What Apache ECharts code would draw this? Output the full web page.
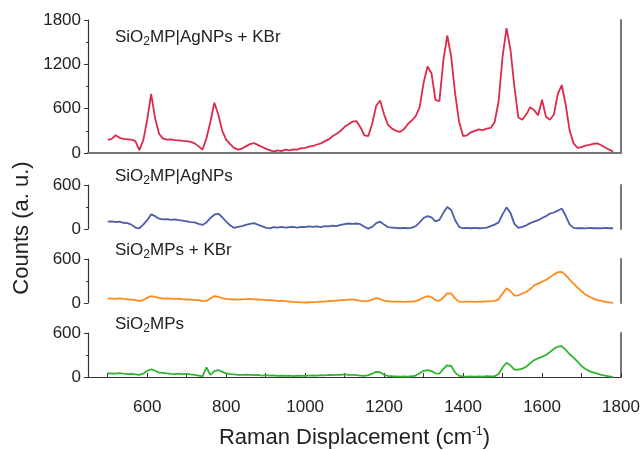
<!DOCTYPE html>
<html lang="en">
<head>
<meta charset="UTF-8">
<title>Raman spectra</title>
<style>
  html, body {margin:0; padding:0; background:#fff}
  #chart {width:643px; height:450px}
</style>
<script src="https://cdn.jsdelivr.net/npm/echarts@6/dist/echarts.min.js"></script>
</head>
<body>
<div id="chart"></div>
<script>
// Raman shift, cm-1
const ramanShift = [];
for (let x = 500; x <= 1780; x += 10) ramanShift.push(x);

const xTicks = [500, 600, 700, 800, 900, 1000, 1100, 1200, 1300, 1400, 1500, 1600, 1700, 1800];
const xLabels = [600, 800, 1000, 1200, 1400, 1600, 1800];

// SiO2MP|AgNPs + KBr
const agKbr = [
  176, 190, 240, 205, 190, 185, 180, 160, 40, 170,
  450, 800, 470, 260, 195, 180, 185, 175, 170, 165,
  162, 150, 130, 90, 45, 200, 420, 680, 520, 300,
  180, 120, 70, 45, 60, 90, 120, 135, 110, 85,
  60, 40, 20, 35, 25, 45, 35, 50, 45, 65,
  70, 85, 95, 115, 130, 160, 185, 230, 260, 300,
  355, 390, 425, 430, 350, 240, 230, 400, 640, 710,
  520, 380, 330, 300, 285, 320, 390, 440, 500, 620,
  950, 1170, 1080, 720, 700, 1250, 1590, 1300, 800, 420,
  230, 240, 280, 300, 320, 310, 330, 340, 420, 700,
  1300, 1690, 1400, 900, 480, 450, 520, 620, 580, 510,
  720, 490, 450, 520, 800, 920, 650, 300, 130, 70,
  80, 100, 110, 125, 130, 105, 75, 45, 20
];

// SiO2MP|AgNPs
const agOnly = [
  100, 105, 95, 100, 85, 80, 60, 20, 10, 60,
  120, 200, 175, 140, 130, 135, 125, 130, 120, 115,
  105, 95, 90, 70, 55, 90, 150, 195, 210, 160,
  100, 50, 15, 30, 40, 55, 70, 80, 60, 40,
  20, 10, 25, 20, 30, 20, 25, 30, 20, 30,
  25, 35, 30, 35, 25, 40, 35, 45, 40, 55,
  65, 75, 70, 75, 65, 30, 5, 30, 80, 100,
  60, 25, 20, 15, 10, 15, 10, 20, 40, 90,
  150, 175, 160, 105, 125, 220, 300, 260, 120, 30,
  10, 15, 10, 15, 10, 12, 20, 40, 60, 90,
  200, 295, 220, 70, 15, 30, 50, 80, 100, 120,
  150, 175, 210, 225, 250, 280, 180, 60, 15, 10,
  12, 8, 15, 10, 12, 8, 15, 10, 10
];

// SiO2MPs + KBr
const mpKbr = [
  64, 60, 55, 62, 55, 50, 45, 40, 25, 40,
  70, 95, 85, 70, 60, 62, 60, 55, 58, 50,
  48, 45, 40, 40, 25, 30, 60, 95, 85, 65,
  55, 50, 48, 45, 50, 52, 55, 50, 48, 45,
  40, 38, 35, 30, 32, 25, 20, 15, 12, 8,
  5, 10, 12, 15, 20, 18, 25, 30, 32, 38,
  40, 45, 48, 40, 30, 25, 30, 45, 65, 55,
  30, 25, 20, 18, 20, 15, 20, 18, 25, 45,
  75, 95, 80, 40, 30, 75, 130, 130, 60, 20,
  15, 18, 20, 15, 20, 18, 22, 25, 30, 50,
  130, 200, 160, 100, 105, 130, 150, 190, 240, 265,
  290, 315, 350, 390, 420, 425, 380, 320, 265, 210,
  160, 115, 85, 60, 40, 28, 15, 8, 2
];

// SiO2MPs
const mpOnly = [
  50, 48, 45, 52, 45, 40, 42, 35, 28, 45,
  85, 105, 85, 60, 55, 48, 42, 40, 45, 38,
  42, 35, 30, 20, 8, 130, 30, 80, 95, 70,
  50, 40, 35, 30, 28, 32, 30, 25, 28, 20,
  25, 18, 22, 15, 20, 15, 18, 12, 18, 15,
  20, 18, 22, 20, 25, 22, 28, 25, 30, 28,
  35, 30, 28, 25, 20, 15, 25, 45, 70, 65,
  30, 15, 10, 8, 5, 8, 5, 10, 20, 50,
  85, 95, 80, 50, 45, 110, 160, 150, 60, 15,
  8, 5, 8, 5, 8, 5, 10, 8, 12, 40,
  130, 195, 160, 100, 100, 115, 140, 190, 230, 255,
  275, 300, 340, 385, 415, 420, 370, 310, 265, 210,
  150, 110, 80, 60, 45, 30, 18, 8, 0
];

const panelNames = ['MP|AgNPs + KBr', 'MP|AgNPs', 'MPs + KBr', 'MPs'];
const panelColors = ['#dc2a4b', '#4c5daa', '#ff8a1c', '#2fb52f'];
const panelMax = [1800, 600, 600, 600];
const panelData = [agKbr, agOnly, mpKbr, mpOnly];

const chart = echarts.init(document.getElementById('chart'));

const gridBox = [
  {top: 20, height: 133},
  {top: 185, height: 44},
  {top: 259, height: 44},
  {top: 333, height: 44}
];
const titleY = [41, 180, 254, 328];

const font = 'Arial, "Liberation Sans", sans-serif';
const plain = v => String(v);

const grid = gridBox.map(g => ({left: 88, right: 22, top: g.top, height: g.height, outerBoundsMode: 'none'}));

const xAxis = gridBox.map((g, i) => {
  const last = i === 3;
  return {
    type: 'value', gridIndex: i, min: 450, max: 1800,
    show: last, position: 'bottom', offset: last ? 15 : 0,
    axisLine: {show: true, lineStyle: {color: '#333', width: 1.2}},
    axisTick: {show: true, inside: true, length: 4, customValues: xTicks, lineStyle: {color: '#333'}},
    axisLabel: {customValues: xLabels, formatter: plain, color: '#222', fontSize: 17, fontFamily: font, margin: 7},
    splitLine: {show: false},
    name: last ? '{a|Raman Displacement (cm}{s|-1}{a|)}' : '',
    nameLocation: 'middle', nameGap: 34,
    nameTextStyle: {
      rich: {
        a: {fontSize: 22, color: '#222', fontFamily: font},
        s: {fontSize: 12, color: '#222', fontFamily: font, verticalAlign: 'top', padding: [0, 0, 12, 0]}
      }
    }
  };
});
// top frame line of first panel
xAxis.push({
  type: 'value', gridIndex: 0, min: 450, max: 1800, position: 'top',
  axisLine: {show: true, lineStyle: {color: '#777', width: 2}},
  axisTick: {show: false}, axisLabel: {show: false}, splitLine: {show: false}
});

const yAxis = gridBox.map((g, i) => ({
  type: 'value', gridIndex: i, min: 0, max: panelMax[i], interval: 600,
  position: 'left',
  axisLine: {show: true, lineStyle: {color: '#333', width: 1.2}},
  axisTick: {show: true, length: 4, lineStyle: {color: '#333'}},
  minorTick: {show: true, splitNumber: 2, length: 2, lineStyle: {color: '#333'}},
  axisLabel: {formatter: plain, color: '#222', fontSize: 17, fontFamily: font, margin: 7},
  splitLine: {show: false}
}));
// right frame lines
gridBox.forEach((g, i) => {
  yAxis.push({
    type: 'value', gridIndex: i, min: 0, max: panelMax[i], position: 'right',
    axisLine: {show: true, lineStyle: {color: '#777', width: 2}},
    axisTick: {show: false}, axisLabel: {show: false}, splitLine: {show: false}
  });
});

const series = panelData.map((vals, i) => ({
  type: 'line', xAxisIndex: i, yAxisIndex: i,
  data: ramanShift.map((x, k) => [x, vals[k]]),
  showSymbol: false, silent: true,
  lineStyle: {color: panelColors[i], width: 1.8},
  itemStyle: {color: panelColors[i]}
}));

const graphic = panelNames.map((n, i) => ({
  type: 'text', left: 115, top: titleY[i] - 12,
  style: {
    text: '{a|SiO}{s|2}{a|' + n + '}',
    rich: {
      a: {fontSize: 17, fill: '#222', fontFamily: font},
      s: {fontSize: 12, fill: '#222', fontFamily: font, padding: [9, 0, 0, 0]}
    }
  }
}));
graphic.push({
  type: 'text', x: 22, y: 228, rotation: Math.PI / 2,
  style: {text: 'Counts (a. u.)', fontSize: 22, fill: '#222', fontFamily: font, align: 'center', verticalAlign: 'middle'}
});

chart.setOption({
  animation: false,
  grid: grid,
  xAxis: xAxis,
  yAxis: yAxis,
  series: series,
  graphic: graphic
});
</script>
</body>
</html>
